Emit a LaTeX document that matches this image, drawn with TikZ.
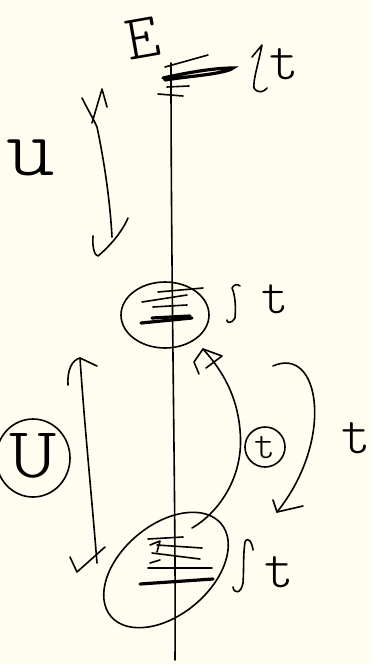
\documentclass[tikz,border=0pt]{standalone}
\usepackage{fontspec}
\newfontfamily\thinf{lmmonolt10-regular.otf}
\usetikzlibrary{shapes.geometric}
\definecolor{paper}{RGB}{255,253,240}
\begin{document}
\begin{tikzpicture}[x=1pt,y=-1pt,
  pen/.style={line width=1.6pt, line cap=round, line join=round},
  heavy/.style={line width=3.2pt, line cap=round},
  hand/.style={font=\fontsize{#1}{#1}\selectfont\thinf, inner sep=0pt},
  ring/.style={draw, line width=1.6pt, inner sep=0pt}]
\fill[paper] (0,0) rectangle (373,664);
\useasboundingbox (0,0) rectangle (373,664);

% energy axis
\coordinate (atop) at (171,63);
\coordinate (abot) at (175,660);
\draw[pen] (atop) .. controls (171,300) and (176,500) .. (abot);
\node[hand=64, rotate=10, text height=39pt, text depth=0pt] (E) at (143,38.5) {E};

% top level (scribbled)
\draw[pen] (165,67) -- (208,55);
\draw[heavy] (163,78) .. controls (190,72) and (215,68) .. (233,68) .. controls (225,74) and (190,76) .. (165,80);
\draw[pen] (167,87) -- (189,86);
\draw[pen] (158,94) -- (183,96);
% top width label
\coordinate (ttop) at (262,45);
\draw[pen] (252,57) -- (ttop) .. controls (258,65) and (253,80) .. (254,88) .. controls (258,94) and (264,92) .. (267,88);
\node[hand=56] (t1) at (284,64) {t};

% u and its double arrow
\node[hand=84, xscale=1.1] (u) at (31,158) {u};
\coordinate (ua) at (102,89);
\coordinate (ub) at (98,256);
\draw[pen] (82,98) .. controls (88,110) and (94,120) .. (97,127) .. controls (104,160) and (110,200) .. (112,237);
\draw[pen] (92,123) -- (ua) -- (107,107);
\draw[pen] (93,236) .. controls (92,248) and (95,256) .. (ub) .. controls (110,246) and (122,232) .. (128,218);

% middle level
\node[ring, ellipse, minimum width=88, minimum height=66] (mid) at (165,315) {};
\draw[pen] (158,292) -- (203,288);
\draw[pen] (142,302) -- (187,295);
\draw[pen] (153,307) -- (187,305);
\draw[heavy] (152,318) -- (190,316);
\draw[heavy] (141,323) -- (192,318);
\draw[pen] (227,320) .. controls (226,323) and (232,324) .. (235,318) .. controls (236,305) and (235,295) .. (232,288) .. controls (234,284) and (238,284) .. (240,286);
\node[hand=52] (t2) at (275,299) {t};

% curved arrow from bottom to middle
\coordinate (cs) at (192,528);
\coordinate (ce) at (203,349);
\draw[pen] (cs) .. controls (215,515) and (245,480) .. (240,430) .. controls (237,395) and (222,370) .. (ce);
\draw[pen] (199,374) -- (194,362) -- (ce) -- (222,356) -- (206,368);

% circled t
\node[ring, circle, minimum size=40, hand=40, text depth=0pt] (tc) at (265,447) {t};

% right curved arrow
\coordinate (rs) at (273,366);
\coordinate (re) at (277,512);
\draw[pen] (rs) .. controls (320,345) and (335,440) .. (re);
\draw[pen] (273,500) -- (re) -- (303,506);
\node[hand=56] (t3) at (356,438) {t};

% circled U
\node[ring, ellipse, minimum width=74, minimum height=78] (U) at (33,458) {};
\node[hand=72, xscale=1.25] (Ut) at (33,456) {U};

% left long double arrow
\coordinate (la) at (80,358);
\coordinate (lb) at (77,572);
\draw[pen] (80,358) .. controls (84,420) and (92,500) .. (97,563);
\draw[pen] (68,385) .. controls (67,370) and (72,360) .. (la) -- (97,366);
\draw[pen] (70,557) -- (lb) -- (105,547);

% bottom level
\node[ring, ellipse, minimum width=144, minimum height=90, rotate=40] (bot) at (166,570) {};
\draw[pen] (148,539) -- (183,537);
\draw[pen] (150,545) -- (160,541) -- (157,552);
\draw[pen] (157,545) -- (202,548);
\draw[pen] (152,553) -- (200,559);
\draw[pen] (148,568) -- (212,568);
\draw[pen] (150,563) -- (160,560);
\draw[heavy] (140,584) -- (213,579);
\draw[pen] (233,587) .. controls (234,594) and (241,594) .. (243,583) .. controls (244,570) and (243,555) .. (245,542) .. controls (248,536) and (252,542) .. (253,550);
\node[hand=56] (t4) at (279,572) {t};
\end{tikzpicture}
\end{document}
